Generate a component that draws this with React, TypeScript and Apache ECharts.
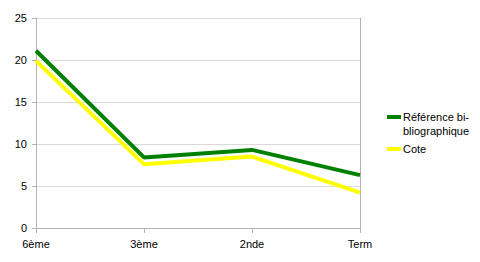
import React, { useEffect, useRef } from "react";
import * as echarts from "echarts";

const categories = ["6ème", "3ème", "2nde", "Term"];
const seriesNames = ["Référence bi-\nbliographique", "Cote"];
const reference = [21.1, 8.4, 9.3, 6.3];
const cote = [19.9, 7.6, 8.5, 4.2];
const colors = ["#008000", "#ffff00"];

export default function App() {
  const ref = useRef<HTMLDivElement>(null);
  useEffect(() => {
    const chart = echarts.init(ref.current!, null, { renderer: "svg" });
    const font = "'Liberation Sans', Arial, sans-serif";
    chart.setOption({
      animation: false,
      textStyle: { fontFamily: font },
      grid: { left: 36, right: 120, top: 18, bottom: 34 },
      xAxis: {
        type: "category",
        data: categories,
        boundaryGap: false,
        axisLine: { show: true, lineStyle: { color: "#b3b3b3", width: 1 } },
        axisTick: { show: true, length: 5, lineStyle: { color: "#b3b3b3" } },
        axisLabel: { color: "#000", fontSize: 11, fontFamily: font, margin: 10 },
        splitLine: { show: false },
      },
      yAxis: [
        {
          type: "value",
          min: 0,
          max: 25,
          interval: 5,
          axisLine: { show: true, lineStyle: { color: "#b3b3b3", width: 1 } },
          axisTick: { show: true, length: 4, lineStyle: { color: "#b3b3b3" } },
          axisLabel: { color: "#000", fontSize: 11, fontFamily: font, margin: 9 },
          splitLine: { show: true, lineStyle: { color: "#d9d9d9", width: 1 } },
        },
        {
          type: "value",
          position: "right",
          min: 0,
          max: 25,
          interval: 5,
          axisLine: { show: true, lineStyle: { color: "#b3b3b3", width: 1 } },
          axisTick: { show: false },
          axisLabel: { show: false },
          splitLine: { show: false },
        },
      ],
      series: [
        {
          name: seriesNames[0],
          type: "line",
          data: reference,
          symbol: "none",
          lineStyle: { color: colors[0], width: 4 },
          itemStyle: { color: colors[0] },
          z: 3,
        },
        {
          name: seriesNames[1],
          type: "line",
          data: cote,
          symbol: "none",
          lineStyle: { color: colors[1], width: 4 },
          itemStyle: { color: colors[1] },
          z: 2,
        },
      ],
      graphic: [
        {
          type: "rect",
          shape: { x: 387, y: 115, width: 14, height: 4 },
          style: { fill: colors[0] },
        },
        {
          type: "text",
          x: 403,
          y: 110,
          style: {
            text: seriesNames[0],
            font: `11px ${font}`,
            fill: "#000",
            lineHeight: 14,
          },
        },
        {
          type: "rect",
          shape: { x: 387, y: 147, width: 14, height: 4 },
          style: { fill: colors[1] },
        },
        {
          type: "text",
          x: 403,
          y: 142,
          style: {
            text: seriesNames[1],
            font: `11px ${font}`,
            fill: "#000",
            lineHeight: 14,
          },
        },
      ],
    });
    return () => chart.dispose();
  }, []);
  return <div ref={ref} style={{ width: 480, height: 262, position: "absolute", left: 0, top: 0 }} />;
}
